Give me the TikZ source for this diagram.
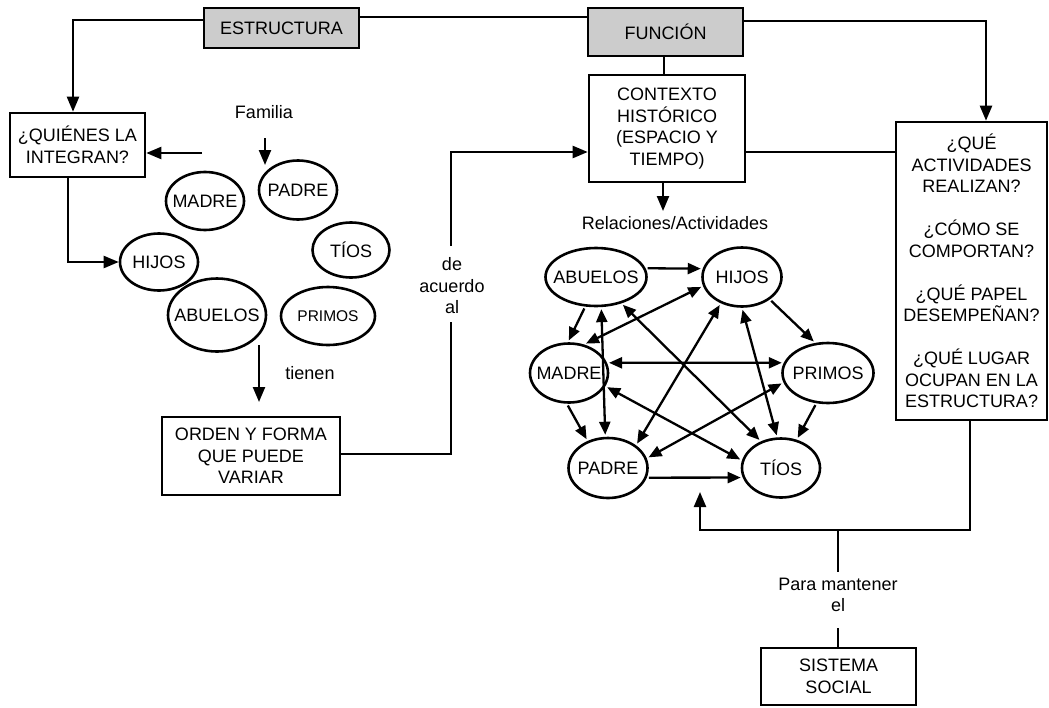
\documentclass[tikz,border=0pt]{standalone}
\usepackage{fontspec}
\setmainfont{Liberation Sans}
\usetikzlibrary{shapes.geometric,arrows.meta}
\newcommand\ellt[1]{\makebox[0pt]{#1}}
\begin{document}
\begin{tikzpicture}[x=1pt,y=-1pt,
  every node/.style={font=\fontsize{18}{21.5}\selectfont},
  box/.style={draw,line width=2.6pt,inner sep=0pt,align=center},
  gbox/.style={box,fill=black!20},
  ell/.style={draw,ellipse,line width=2.6pt,inner sep=0pt},
  ln/.style={line width=2.3pt},
  arr/.style={ln,-{Triangle[length=15pt,width=12pt]}},
  garr/.style={ln,-{Triangle[length=13pt,width=11pt]},shorten >=2pt,shorten <=2pt},
  gdarr/.style={ln,{Triangle[length=13pt,width=11pt]}-{Triangle[length=13pt,width=11pt]},shorten >=2pt,shorten <=2pt},
  txt/.style={inner sep=0pt,align=center}
]
\useasboundingbox[fill=white] (0,0) rectangle (1049,707);

% boxes
\node[gbox,minimum width=155pt,minimum height=40pt] (estr) at (281.5,28) {ESTRUCTURA};
\node[gbox,minimum width=155pt,minimum height=48pt] (func) at (665.5,32) {FUNCIÓN};
\node[box,minimum width=156pt,minimum height=107pt] (ctx) at (667,128.5) {CONTEXTO\\HISTÓRICO\\(ESPACIO Y\\TIEMPO)};
\node[box,minimum width=135pt,minimum height=64pt] (quien) at (77.5,145) {¿QUIÉNES LA\\INTEGRAN?};
\node[box,minimum width=178pt,minimum height=78pt] (orden) at (251,456) {ORDEN Y FORMA\\QUE PUEDE\\VARIAR};
\node[box,minimum width=151pt,minimum height=298pt] (que) at (971.5,271) {¿QUÉ\\ACTIVIDADES\\REALIZAN?\\[21.5pt]¿CÓMO SE\\COMPORTAN?\\[21.5pt]¿QUÉ PAPEL\\DESEMPEÑAN?\\[21.5pt]¿QUÉ LUGAR\\OCUPAN EN LA\\ESTRUCTURA?};
\node[box,minimum width=155pt,minimum height=57pt] (sis) at (838.5,676.5) {SISTEMA\\SOCIAL};

% free texts
\node[txt] (fam) at (264,112) {Familia};
\node[txt] (rel) at (675,223) {Relaciones/Actividades};
\node[txt] (tien) at (310,373) {tienen};
\node[txt] (acu) at (452,286) {de\\acuerdo\\al};
\node[txt] (pm) at (838,595) {Para mantener\\el};

% left ellipses
\node[ell,minimum width=78pt,minimum height=58pt] (madL) at (205,201) {\ellt{MADRE}};
\node[ell,minimum width=78pt,minimum height=59pt] (padL) at (298,190) {\ellt{PADRE}};
\node[ell,minimum width=77pt,minimum height=55pt] (tioL) at (351,250) {\ellt{TÍOS}};
\node[ell,minimum width=78pt,minimum height=57pt] (hijL) at (159,262) {\ellt{HIJOS}};
\node[ell,minimum width=98pt,minimum height=73pt] (abuL) at (217,315) {\ellt{ABUELOS}};
\node[ell,minimum width=94pt,minimum height=58pt,font=\fontsize{15.5}{18}\selectfont] (priL) at (328,316) {\ellt{PRIMOS}};

% right ellipses
\node[ell,minimum width=101pt,minimum height=58pt] (abu) at (596,277) {\ellt{ABUELOS}};
\node[ell,minimum width=79pt,minimum height=59pt] (hij) at (742,277) {\ellt{HIJOS}};
\node[ell,minimum width=78pt,minimum height=59pt] (mad) at (569,373) {\ellt{MADRE}};
\node[ell,minimum width=91pt,minimum height=60pt] (pri) at (828,373) {\ellt{PRIMOS}};
\node[ell,minimum width=79pt,minimum height=60pt] (pad) at (608,468) {\ellt{PADRE}};
\node[ell,minimum width=78pt,minimum height=59pt] (tio) at (781,468) {\ellt{TÍOS}};

% coordinates
\coordinate (famL) at (202,153);
\coordinate (famA) at (265,138);
\coordinate (famB) at (265,165);
\coordinate (tiA) at (259,345);
\coordinate (tiB) at (259,402);
\coordinate (acuS) at (451,322);
\coordinate (acuN) at (451,246);
\coordinate (relTip) at (663,211);
\coordinate (j1) at (838,530);
\coordinate (pmN) at (838,572);
\coordinate (pmS) at (838,628);
\coordinate (upTip) at (700,492);

% connectors top
\draw[arr] (estr.west |- 0,20) -| (quien.north -| 73,0);
\draw[ln] (estr.east |- 0,17) -- (func.west |- 0,17);
\draw[arr] (func.east |- 0,21) -| (que.north -| 986,0);
\draw[ln] (func.south -| 664,0) -- (ctx.north -| 664,0);
\draw[arr] (ctx.south -| 663,0) -- (relTip);
\draw[ln] (ctx.east |- 0,152) -- (que.west |- 0,152);
\draw[arr] (que.south -| 970,0) |- (j1) -| (upTip);
\draw[ln] (j1) -- (pmN);
\draw[ln] (pmS) -- (sis.north -| pmS);

% connectors left
\draw[arr] (famL) -- (quien.east |- famL);
\draw[arr] (famA) -- (famB);
\draw[arr] (quien.south -| 68,0) |- (hijL.west);
\draw[arr] (tiA) -- (tiB);
\draw[ln] (orden.east |- 0,454) -| (acuS);
\draw[arr] (acuN) |- (ctx.west |- 0,152);

% graph
\draw[garr] (abu.10) -- (hij.168);
\draw[gdarr] (hij.193) -- (mad.62);
\draw[garr] (abu.250) -- (mad.92);
\draw[gdarr] (abu.280) -- (pad.95);
\draw[gdarr] (abu.314) -- (tio.127);
\draw[gdarr] (mad.15) -- (pri.167);
\draw[garr] (mad.266) -- (pad.127);
\draw[gdarr] (mad.340) -- (tio.169);
\draw[gdarr] (hij.231) -- (pad.39);
\draw[gdarr] (hij.270) -- (tio.97);
\draw[garr] (hij.321) -- (pri.113);
\draw[gdarr] (pri.192) -- (pad.14);
\draw[garr] (pri.249) -- (tio.61);
\draw[garr] (pad.346) -- (tio.194);
\end{tikzpicture}
\end{document}
